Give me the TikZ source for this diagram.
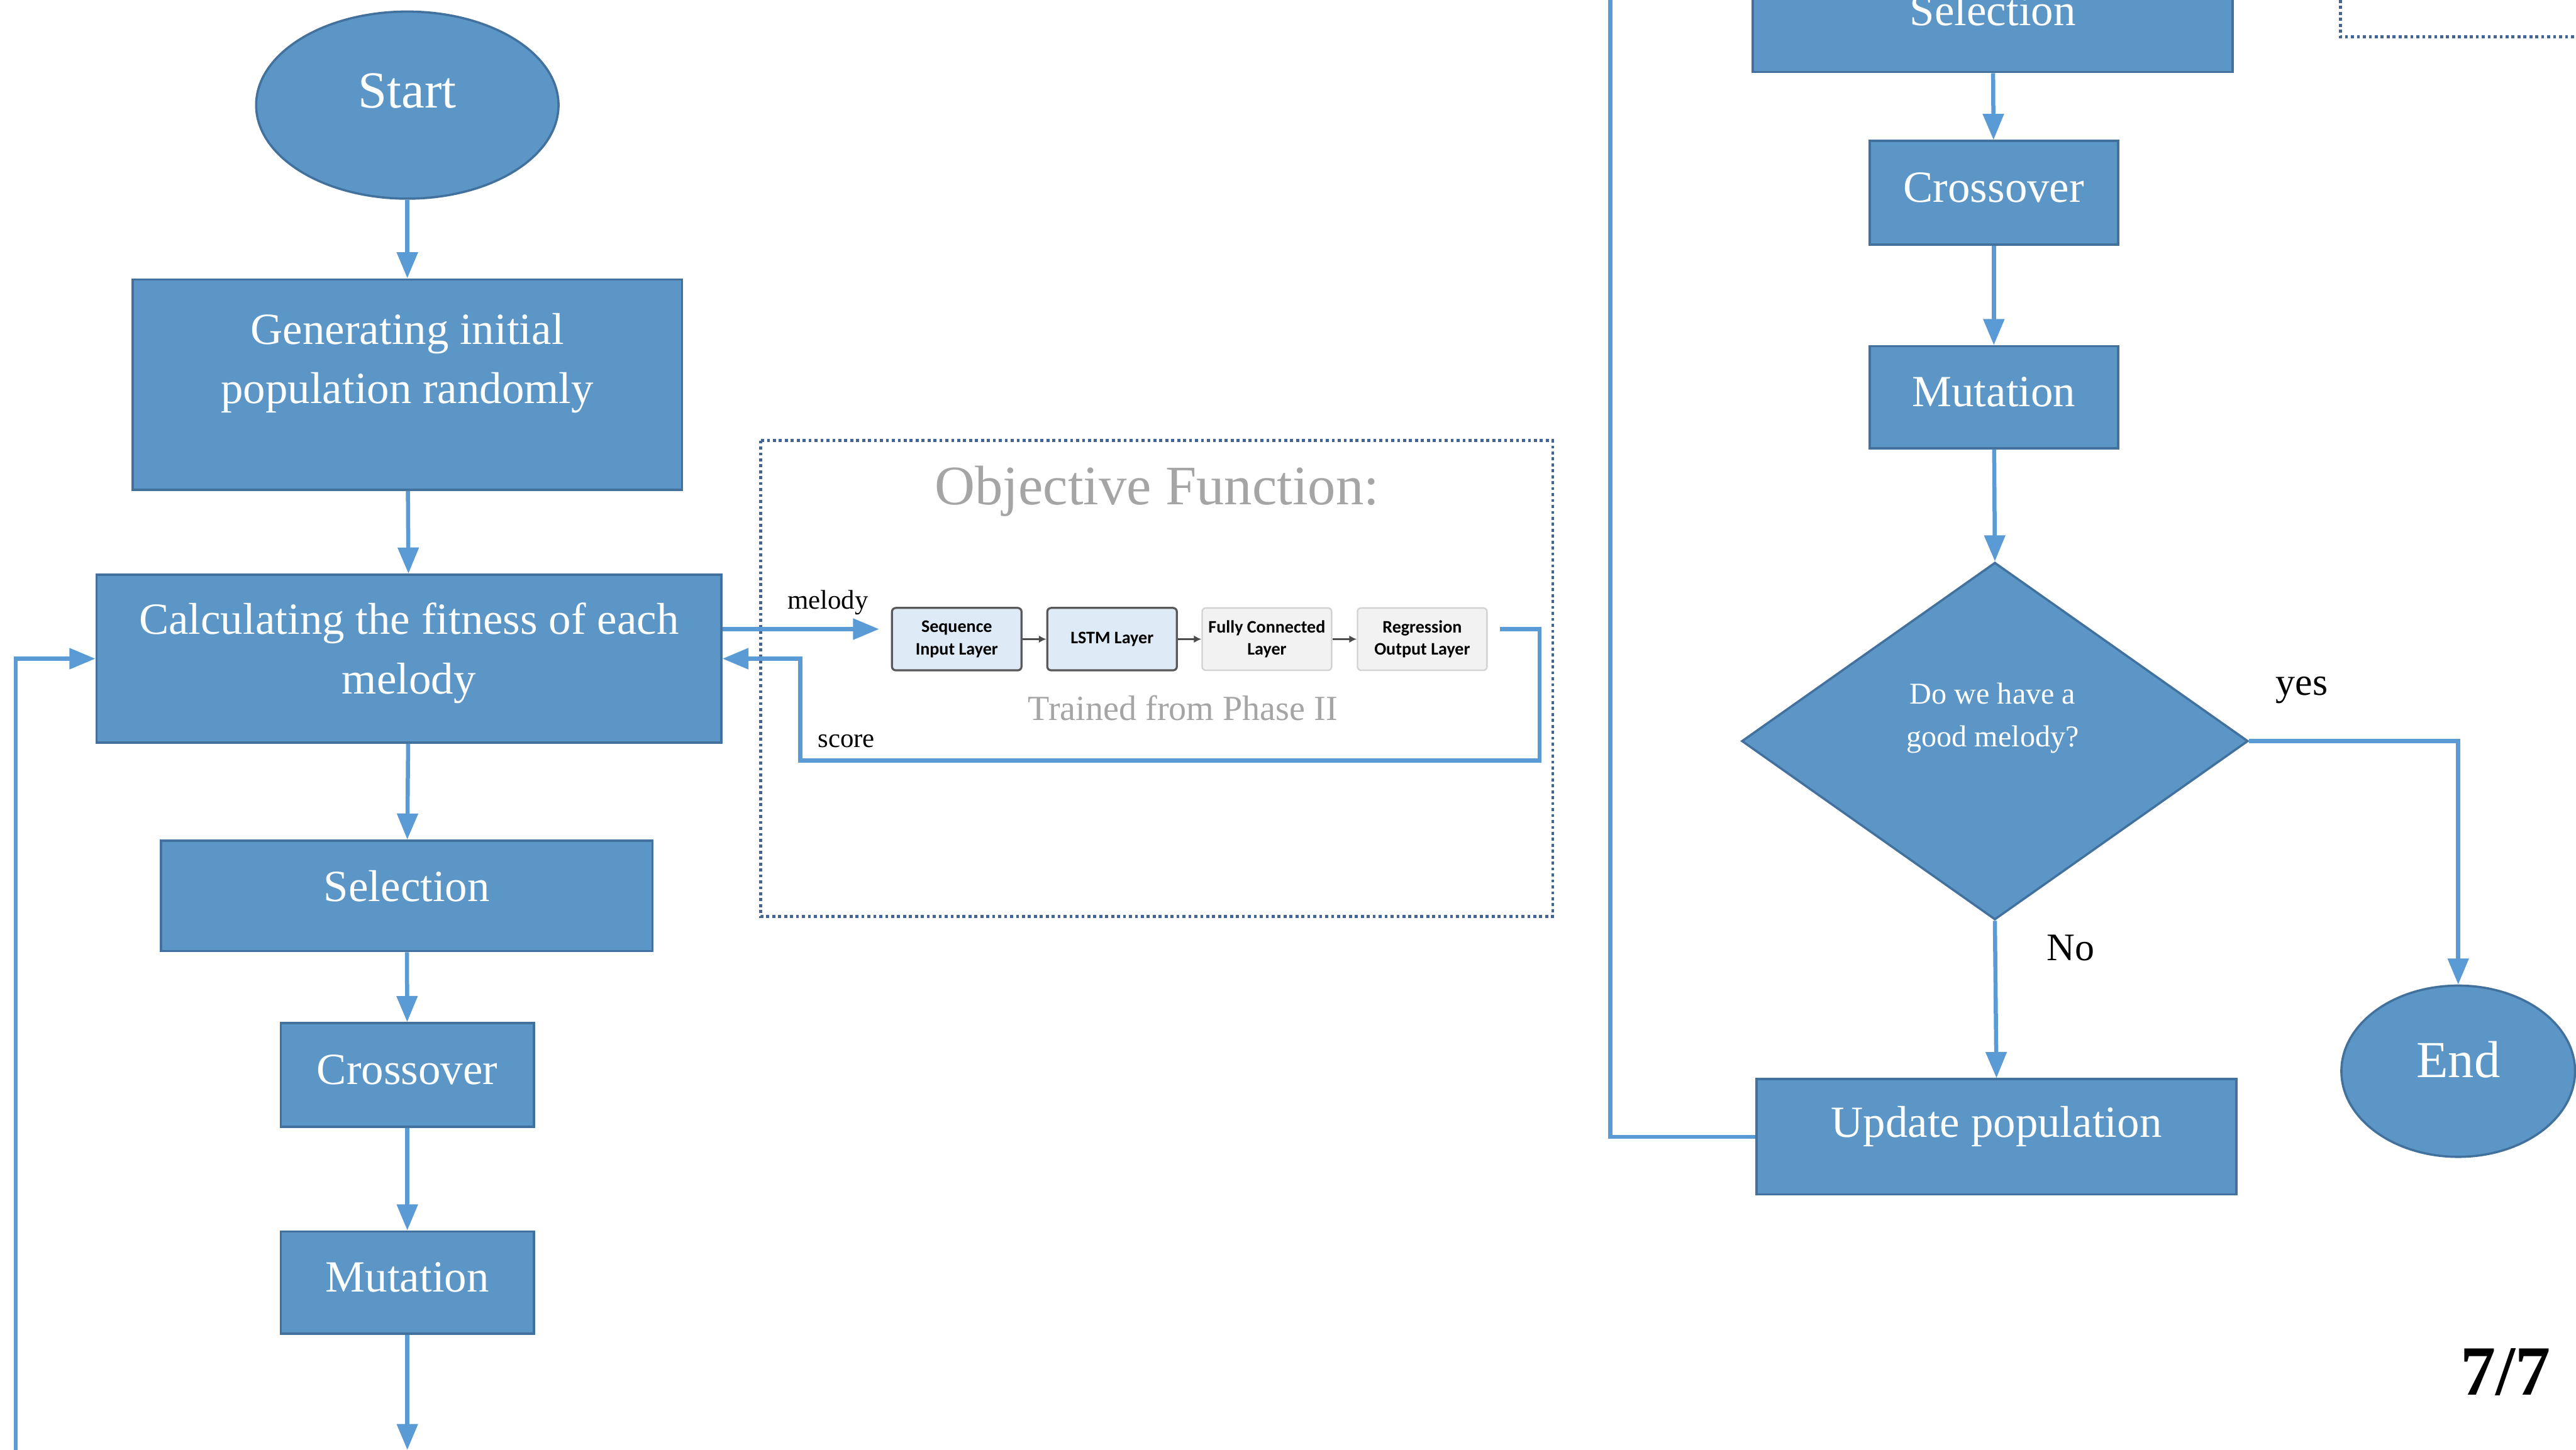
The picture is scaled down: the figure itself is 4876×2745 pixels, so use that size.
\documentclass[tikz,border=0pt]{standalone}
\usepackage{fontspec}
\setmainfont{Liberation Serif}
\newfontfamily\calib{Carlito}
\usetikzlibrary{shapes.geometric,arrows.meta,calc}
\definecolor{boxfill}{RGB}{91,150,199}
\definecolor{boxline}{RGB}{65,113,156}
\definecolor{lineblue}{RGB}{91,155,213}
\definecolor{dotblue}{RGB}{68,100,150}
\definecolor{lightblue}{RGB}{222,234,246}
\definecolor{lightgray}{RGB}{242,242,242}
\definecolor{txtgray}{RGB}{165,165,165}
\tikzset{
  bluebox/.style={rectangle, fill=boxfill, draw=boxline, line width=1.2pt, text=white,
    align=center, inner sep=0pt, font=\fontsize{24}{32}\selectfont},
  blueellipse/.style={ellipse, fill=boxfill, draw=boxline, line width=1.2pt, text=white,
    inner sep=0pt, font=\fontsize{28}{34}\selectfont},
  flowarrow/.style={draw=lineblue, line width=2.2pt, -{Triangle[width=11pt,length=14pt]}},
  flowline/.style={draw=lineblue, line width=2.2pt},
  layerA/.style={rectangle, rounded corners=2pt, fill=lightblue, draw=gray!70!black, line width=1.1pt,
    minimum width=2.45cm, minimum height=1.18cm, inner sep=0pt, align=center,
    font=\calib\bfseries\fontsize{9.5}{12}\selectfont},
  layerB/.style={layerA, fill=lightgray, draw=gray!35, line width=0.8pt},
  smallarrow/.style={draw=gray!60!black, line width=1pt, -{Latex[length=4pt,width=4pt]}},
  dotbox/.style={draw=dotblue, line width=1.6pt, dash pattern=on 1.6pt off 1.6pt},
  lbl/.style={text=black, inner sep=0pt},
}
\begin{document}
\begin{tikzpicture}[x=0.01cm,y=-0.01cm]
\useasboundingbox[fill=white] (0,0) rectangle (4876,2745);

% ---------- left column ----------
\node[blueellipse, minimum width=5.72cm, minimum height=3.54cm, text depth=0.56cm] (start) at (771,199) {Start};
\node[bluebox, minimum width=10.39cm, minimum height=3.98cm, text depth=0.99cm] (gen) at (771,728) {Generating initial\\population randomly};
\node[bluebox, minimum width=11.82cm, minimum height=3.18cm, text depth=0.39cm] (calc) at (774,1247) {Calculating the fitness of each\\melody};
\node[bluebox, minimum width=9.30cm, minimum height=2.09cm, text depth=0.38cm] (sel) at (770,1696) {Selection};
\node[bluebox, minimum width=4.79cm, minimum height=1.96cm, text depth=0.2cm] (cross) at (771,2035) {Crossover};
\node[bluebox, minimum width=4.79cm, minimum height=1.93cm, text depth=0.2cm] (mut) at (771,2428) {Mutation};
\coordinate (mutout) at (771,2745);
\coordinate (loopbot) at (30,2745);

\draw[flowarrow] (start) -- (gen);
\draw[flowarrow] (gen) -- (calc);
\draw[flowarrow] (calc) -- (sel);
\draw[flowarrow] (sel) -- (cross);
\draw[flowarrow] (cross) -- (mut);
\draw[flowarrow] (mut) -- (mutout);
\draw[flowarrow] (loopbot) |- (calc.west);

% ---------- objective function ----------
\draw[dotbox] (1440,834) rectangle (2939,1735);
\node[text=txtgray, inner sep=0pt, font=\fontsize{30}{34}\selectfont] (objt) at (2190,930) {Objective Function:};
\node[layerA] (seq) at (1811,1210) {Sequence\\Input Layer};
\node[layerA] (lstm) at (2105,1210) {LSTM Layer};
\node[layerB] (fc) at (2398,1210) {Fully Connected\\Layer};
\node[layerB] (reg) at (2692,1210) {Regression\\Output Layer};
\draw[smallarrow] (seq) -- (lstm);
\draw[smallarrow] (lstm) -- (fc);
\draw[smallarrow] (fc) -- (reg);
\node[text=txtgray, inner sep=0pt, font=\fontsize{19}{22}\selectfont] (trained) at (2239,1340) {Trained from Phase II};

\coordinate (melend) at (1664,1191);
\draw[flowarrow] (calc.east |- melend) -- (melend);
\node[lbl, font=\fontsize{14.5}{16}\selectfont] (mellbl) at (1567,1141) {melody};
\coordinate (o1) at (2839,1191);
\coordinate (o2) at (2914,1191);
\coordinate (o3) at (2914,1440);
\coordinate (o4) at (1515,1440);
\coordinate (o5) at (1515,1247);
\draw[flowarrow] (o1) -- (o2) -- (o3) -- (o4) -- (o5) -- (calc.east);
\node[lbl, font=\fontsize{14.5}{16}\selectfont] (scorelbl) at (1602,1403) {score};

% ---------- right column ----------
\node[bluebox, minimum width=9.08cm, minimum height=2.09cm, text depth=0.25cm] (rsel) at (3772,32) {Selection};
\node[bluebox, minimum width=4.70cm, minimum height=1.96cm, text depth=0.2cm] (rcross) at (3774,365) {Crossover};
\node[bluebox, minimum width=4.70cm, minimum height=1.93cm, text depth=0.2cm] (rmut) at (3774,752) {Mutation};
\node[diamond, fill=boxfill, draw=boxline, line width=1.2pt, minimum width=9.58cm, minimum height=6.76cm, inner sep=0pt] (dia) at (3776,1403) {};
\node[text=white, align=center, inner sep=0pt, font=\fontsize{16.3}{23}\selectfont] (diat) at (3772,1359) {Do we have a\\good melody?};
\node[bluebox, minimum width=9.08cm, minimum height=2.18cm, text depth=0.57cm] (upd) at (3779,2152) {Update population};
\node[blueellipse, minimum width=4.42cm, minimum height=3.24cm, text depth=0.44cm] (endn) at (4653,2028) {End};

\draw[flowarrow] (rsel) -- (rcross);
\draw[flowarrow] (rcross) -- (rmut);
\draw[flowarrow] (rmut) -- (dia.north);
\draw[flowarrow] (dia.south) -- (upd.north);
\draw[flowarrow] (dia.east) -| (endn.north);
\coordinate (rtop) at (3048,0);
\draw[flowline] (upd.west) -| (rtop);
\node[lbl, font=\fontsize{21}{24}\selectfont] (yeslbl) at (4357,1306) {yes};
\node[lbl, font=\fontsize{21}{24}\selectfont] (nolbl) at (3919,1794) {No};

% dotted box at top right
\draw[dotbox] (4430,0) -- (4430,70) -- (4876,70);

% page number
\node[lbl, font=\bfseries\fontsize{38}{42}\selectfont] (pg) at (4743,2597) {7/7};
\end{tikzpicture}
\end{document}
